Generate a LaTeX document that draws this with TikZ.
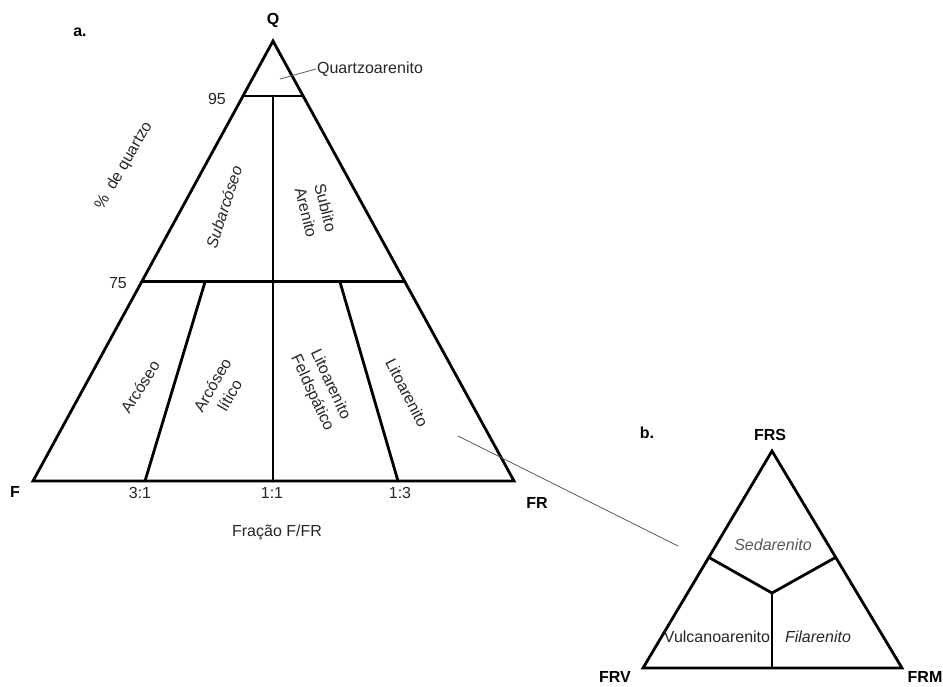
\documentclass[tikz,border=0pt]{standalone}
\usepackage{fontspec}
\setmainfont{Liberation Sans}
\usepackage{tikz}
\usetikzlibrary{calc}
\definecolor{linha}{rgb}{0.,0.,0.}
\definecolor{texto}{rgb}{0.15,0.15,0.15}
\definecolor{guia}{rgb}{0.35,0.35,0.35}
\tikzstyle{every node}=[font=\fontsize{16}{18}\selectfont,text=texto,inner sep=1pt]
\tikzstyle{vertice}=[font=\fontsize{16}{18}\selectfont\bfseries,text=black]
\tikzstyle{campo}=[align=center,font=\fontsize{16}{20}\selectfont]
\tikzstyle{limite}=[line width=2.8pt,color=linha]

\begin{document}
\begin{tikzpicture}[line cap=round,line join=round,x=1pt,y=-1pt]
  \useasboundingbox (0,0) rectangle (943,686);
  % diagrama a
  \coordinate (Q) at (273,41);
  \coordinate (F) at (33,481);
  \coordinate (FR) at (514,481);
  \coordinate (q95a) at ($(Q)!0.125!(F)$);
  \coordinate (q95b) at ($(Q)!0.125!(FR)$);
  \coordinate (q75a) at ($(Q)!0.547!(F)$);
  \coordinate (q75b) at ($(Q)!0.547!(FR)$);
  \draw[limite,line join=miter] (Q) -- (F) -- (FR) -- cycle;
  \draw[limite] (q95a) -- (q95b);
  \draw[limite] (q75a) -- (q75b);
  \draw[limite] (273,96) -- (273,481);
  \draw[limite] (205,282) -- (145,481);
  \draw[limite] (340,282) -- (398,481);
  \node[vertice] (nQ) at (273,20) {Q};
  \node[vertice] (na) at (80,32) {a.};
  \node[vertice] (nF) at (15,492) {F};
  \node[vertice] (nFR) at (537,503) {FR};
  \node (n95) at (217,99) {95};
  \node (n75) at (118,283) {75};
  \node (r31) at (140,493) {3:1};
  \node (r11) at (272,493) {1:1};
  \node (r13) at (400,493) {1:3};
  \node (fracao) at (277,532) {Fração F/FR};
  \node[rotate=60] (pquartzo) at (124,166) {\%\ \ de quartzo};
  \node (quartzoar) at (370,69) {Quartzoarenito};
  \coordinate (qpt) at (280,79);
  \draw[guia,line width=0.8pt] (qpt) -- (quartzoar.west);
  \node[campo,rotate=72,font=\fontsize{16}{20}\selectfont\itshape] (subarc) at (224,207) {Subarcóseo};
  \node[campo,rotate=-76] (sublito) at (316,210) {Sublito\\Arenito};
  \node[campo,rotate=58] (arcoseo) at (140,387) {Arcóseo};
  \node[campo,rotate=60] (arclit) at (221,390) {Arcóseo\\lítico};
  \node[campo,rotate=-65] (litfeld) at (321,389) {Litoarenito\\Feldspático};
  \node[campo,rotate=-63] (litoar) at (407,393) {Litoarenito};
  % ligacao entre a e b
  \coordinate (litpt) at (458,436);
  \coordinate (bpt) at (678,546);
  \draw[guia,line width=0.8pt] (litpt) -- (bpt);
  % diagrama b
  \coordinate (FRS) at (772,451);
  \coordinate (FRV) at (643,668);
  \coordinate (FRM) at (902,668);
  \coordinate (centro) at (772,593);
  \coordinate (ladoV) at ($(FRS)!0.49!(FRV)$);
  \coordinate (ladoM) at ($(FRS)!0.49!(FRM)$);
  \draw[limite,line join=miter] (FRS) -- (FRV) -- (FRM) -- cycle;
  \draw[limite] (ladoV) -- (centro) -- (ladoM);
  \draw[limite] (centro) -- (772,668);
  \node[vertice] (nb) at (647,433) {b.};
  \node[vertice] (nFRS) at (770,435) {FRS};
  \node[vertice] (nFRV) at (615,677) {FRV};
  \node[vertice] (nFRM) at (925,677) {FRM};
  \node[campo,text=guia,font=\fontsize{16}{20}\selectfont\itshape] (sedar) at (773,545) {Sedarenito};
  \node[campo] (vulc) at (717,637) {Vulcanoarenito};
  \node[campo,font=\fontsize{16}{20}\selectfont\itshape] (filar) at (818,637) {Filarenito};
\end{tikzpicture}
\end{document}
